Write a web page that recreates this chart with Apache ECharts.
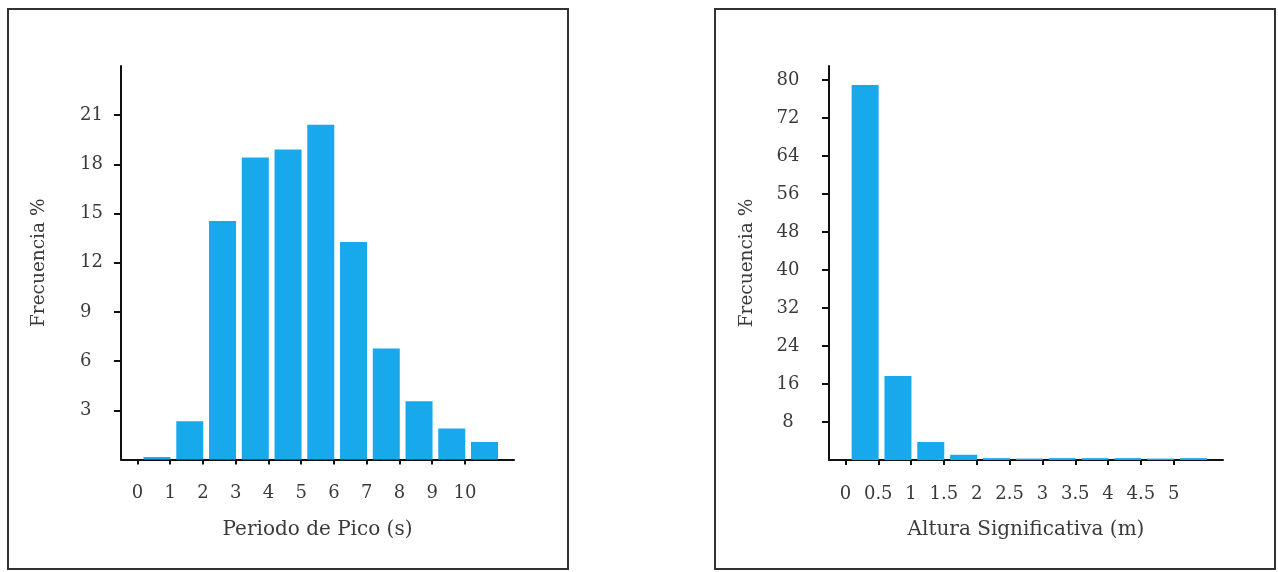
<!DOCTYPE html>
<html>
<head>
<meta charset="utf-8">
<script src="https://cdn.jsdelivr.net/npm/echarts@6/dist/echarts.min.js"></script>
<style>
html,body{margin:0;padding:0;background:#fff;}
#c{width:1278px;height:572px;}
</style>
</head>
<body>
<div id="c"></div>
<script>
// Left chart: Periodo de Pico
const periodBins = [0.6, 1.6, 2.6, 3.6, 4.6, 5.6, 6.6, 7.6, 8.6, 9.6, 10.6];
const periodFreq = [0.15, 2.33, 14.54, 18.42, 18.91, 20.42, 13.27, 6.77, 3.55, 1.89, 1.07];
const periodTicks = [0, 1, 2, 3, 4, 5, 6, 7, 8, 9, 10];
const periodYTicks = [3, 6, 9, 12, 15, 18, 21];

// Right chart: Altura Significativa
const heightBins = [0.3, 0.8, 1.3, 1.8, 2.3, 2.8, 3.3, 3.8, 4.3, 4.8, 5.3];
const heightFreq = [79.0, 17.7, 3.8, 1.1, 0.4, 0.3, 0.4, 0.4, 0.4, 0.3, 0.4];
const heightTicks = [0, 0.5, 1, 1.5, 2, 2.5, 3, 3.5, 4, 4.5, 5];
const heightYTicks = [8, 16, 24, 32, 40, 48, 56, 64, 72, 80];

const FONT = 'DejaVu Serif';
const TXT = '#3a3a3a';
const BAR = '#17a9ec';

function xAxisCfg(gridIndex, min, max, ticks, name) {
  return {
    type: 'value', gridIndex, min, max,
    name, nameLocation: 'middle', nameGap: 60,
    nameTextStyle: {fontFamily: FONT, fontSize: 20, color: TXT},
    axisLine: {show: true, onZero: false, lineStyle: {color: '#111', width: 2}},
    axisTick: {show: true, customValues: ticks, length: 5, lineStyle: {color: '#111', width: 2}},
    axisLabel: {show: true, customValues: ticks, margin: 25, fontFamily: FONT, fontSize: 18, color: TXT},
    splitLine: {show: false}
  };
}
function yAxisCfg(gridIndex, max, ticks, align) {
  return {
    type: 'value', gridIndex, min: 0, max,
    name: 'Frecuencia %', nameLocation: 'middle', nameGap: 72, nameRotate: 90,
    nameTextStyle: {fontFamily: FONT, fontSize: 18.5, color: TXT},
    axisLine: {show: true, onZero: false, lineStyle: {color: '#111', width: 2}},
    axisTick: {show: true, customValues: ticks, length: 7, lineStyle: {color: '#111', width: 2}},
    axisLabel: {show: true, customValues: ticks, margin: 41, align, fontFamily: FONT, fontSize: 18, color: TXT},
    splitLine: {show: false}
  };
}

const chart = echarts.init(document.getElementById('c'), null, {renderer: 'canvas'});
chart.setOption({
  animation: false,
  backgroundColor: '#fff',
  graphic: [
    {type: 'rect', shape: {x: 8, y: 9, width: 560, height: 560}, style: {fill: 'none', stroke: '#333', lineWidth: 2}, z: 0},
    {type: 'rect', shape: {x: 715, y: 9, width: 560, height: 560}, style: {fill: 'none', stroke: '#333', lineWidth: 2}, z: 0}
  ],
  grid: [
    {left: 121, top: 66, width: 393, height: 393.5},
    {left: 829, top: 66, width: 394, height: 394}
  ],
  xAxis: [
    xAxisCfg(0, -0.5, 11.5, periodTicks, 'Periodo de Pico (s)'),
    xAxisCfg(1, -0.25, 5.75, heightTicks, 'Altura Significativa (m)')
  ],
  yAxis: [
    yAxisCfg(0, 24, periodYTicks, 'left'),
    yAxisCfg(1, 83, heightYTicks, 'center')
  ],
  series: [
    {type: 'bar', xAxisIndex: 0, yAxisIndex: 0, barWidth: 27,
     itemStyle: {color: BAR}, data: periodBins.map((x, i) => [x, periodFreq[i]])},
    {type: 'bar', xAxisIndex: 1, yAxisIndex: 1, barWidth: 27,
     itemStyle: {color: BAR}, data: heightBins.map((x, i) => [x, heightFreq[i]])}
  ]
});
</script>
</body>
</html>
